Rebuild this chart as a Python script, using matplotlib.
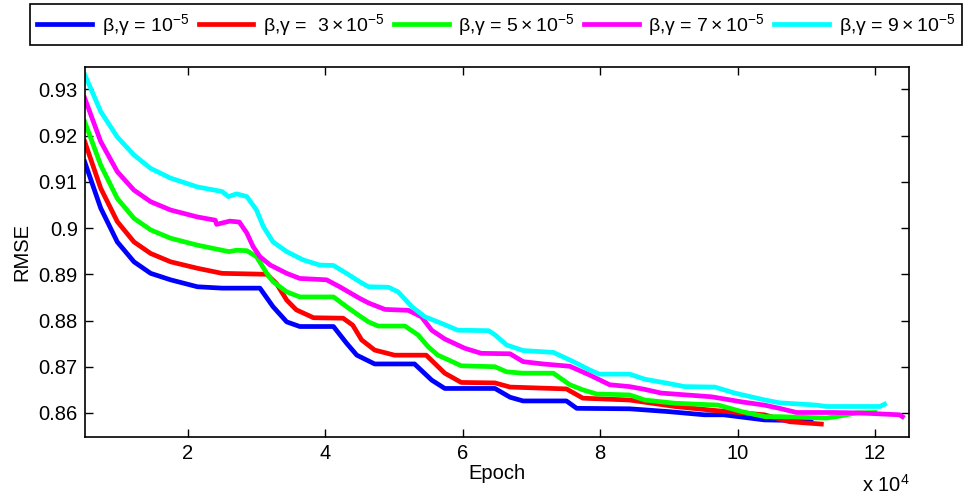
import numpy as np
import matplotlib
matplotlib.use("Agg")
import matplotlib.pyplot as plt
from matplotlib.ticker import FuncFormatter

plt.rcParams['font.family'] = ['Liberation Sans', 'DejaVu Sans']
plt.rcParams['mathtext.fontset'] = 'custom'
plt.rcParams['mathtext.rm'] = 'Liberation Sans'
plt.rcParams['mathtext.it'] = 'Liberation Sans:italic'

# epoch in units of 10^4, RMSE
blue_x = [0.5, 0.733, 0.974, 1.217, 1.46, 1.75, 2.14, 2.5, 3.05, 3.24, 3.44, 3.63, 4.12, 4.31, 4.46,
          4.72, 5.30, 5.55, 5.74, 6.47, 6.69, 6.88, 7.51, 7.66, 8.43, 8.99, 9.52, 9.80, 10.39, 11.07]
blue_y = [0.9143, 0.9043, 0.8970, 0.8927, 0.8902, 0.8888, 0.8873, 0.8870, 0.8870, 0.8830, 0.8797, 0.8787,
          0.8787, 0.8751, 0.8725, 0.8706, 0.8706, 0.8671, 0.8653, 0.8653, 0.8634, 0.8626, 0.8626, 0.8610,
          0.8609, 0.8603, 0.8596, 0.8596, 0.8585, 0.8583]

red_x = [0.5, 0.733, 0.974, 1.217, 1.46, 1.75, 2.14, 2.5, 3.15, 3.29, 3.44, 3.58, 3.83, 4.26, 4.40, 4.53,
         4.72, 5.01, 5.47, 5.74, 5.98, 6.47, 6.69, 7.51, 7.75, 8.43, 9.09, 9.62, 10.39, 10.76, 11.22]
red_y = [0.9187, 0.9086, 0.9014, 0.8970, 0.8945, 0.8927, 0.8913, 0.8902, 0.8900, 0.8880, 0.8844, 0.8823,
         0.8806, 0.8805, 0.8790, 0.8758, 0.8736, 0.8725, 0.8725, 0.8686, 0.8666, 0.8665, 0.8656, 0.8652,
         0.8632, 0.8628, 0.8614, 0.8606, 0.8596, 0.8581, 0.8576]

green_x = [0.5, 0.733, 0.974, 1.217, 1.46, 1.75, 2.14, 2.5, 2.6, 2.71, 2.86, 3.0, 3.15, 3.24, 3.44, 3.63,
           4.12, 4.31, 4.5, 4.63, 4.77, 5.16, 5.35, 5.5, 5.64, 5.79, 5.98, 6.47, 6.64, 6.88, 7.32, 7.56,
           7.75, 7.95, 8.43, 8.65, 9.09, 9.72, 10.06, 10.4, 10.61, 11.29, 11.44, 11.73, 12.0]
green_y = [0.9230, 0.9136, 0.9064, 0.9021, 0.8996, 0.8978, 0.8963, 0.8952, 0.8949, 0.8952, 0.8951, 0.8938,
           0.8902, 0.8884, 0.8862, 0.8851, 0.8851, 0.8830, 0.8810, 0.8797, 0.8788, 0.8788, 0.8769, 0.8743,
           0.8725, 0.8715, 0.8702, 0.8700, 0.8689, 0.8686, 0.8686, 0.8661, 0.8650, 0.8641, 0.8639, 0.8628,
           0.8621, 0.8617, 0.8603, 0.8592, 0.8592, 0.8589, 0.8592, 0.8600, 0.8601]

magenta_x = [0.5, 0.733, 0.974, 1.217, 1.46, 1.75, 2.14, 2.4, 2.42, 2.61, 2.75, 2.86, 2.95, 3.05, 3.2,
             3.44, 3.63, 4.02, 4.21, 4.5, 4.63, 4.87, 5.21, 5.4, 5.55, 5.74, 6.03, 6.27, 6.69, 6.88, 7.17,
             7.56, 7.85, 8.14, 8.43, 8.65, 8.89, 9.62, 10.06, 10.39, 10.61, 10.86, 11.39, 11.78, 12.36, 12.40]
magenta_y = [0.9281, 0.9187, 0.9122, 0.9082, 0.9057, 0.9039, 0.9024, 0.9017, 0.9008, 0.9015, 0.9013,
             0.8989, 0.8960, 0.8938, 0.8920, 0.8902, 0.8891, 0.8888, 0.8873, 0.8848, 0.8838, 0.8824,
             0.8822, 0.8808, 0.8779, 0.8760, 0.8740, 0.8729, 0.8728, 0.8711, 0.8706, 0.8701, 0.8682,
             0.8661, 0.8657, 0.8651, 0.8643, 0.8635, 0.8624, 0.8617, 0.8610, 0.8601, 0.8601, 0.8600,
             0.8596, 0.8592]

cyan_x = [0.5, 0.733, 0.974, 1.217, 1.46, 1.75, 2.14, 2.5, 2.59, 2.71, 2.86, 3.0, 3.1, 3.24, 3.44, 3.68,
          3.92, 4.12, 4.31, 4.5, 4.63, 4.92, 5.06, 5.26, 5.45, 5.69, 5.93, 6.38, 6.47, 6.64, 6.88, 7.32,
          7.61, 7.85, 7.99, 8.43, 8.65, 8.99, 9.23, 9.67, 9.96, 10.4, 10.61, 11.15, 11.29, 12.07, 12.14]
cyan_y = [0.9332, 0.9252, 0.9197, 0.9158, 0.9129, 0.9108, 0.9089, 0.9079, 0.9068, 0.9074, 0.9068, 0.9039,
          0.9003, 0.8970, 0.8949, 0.8931, 0.8920, 0.8919, 0.8902, 0.8884, 0.8873, 0.8872, 0.8862, 0.8830,
          0.8808, 0.8794, 0.8779, 0.8778, 0.8769, 0.8747, 0.8735, 0.8731, 0.8711, 0.8693, 0.8684, 0.8684,
          0.8673, 0.8664, 0.8657, 0.8656, 0.8643, 0.8628, 0.8622, 0.8617, 0.8614, 0.8614, 0.8619]

labels = [r'β,γ = $10^{-5}$', r'β,γ =  $3\times10^{-5}$', r'β,γ = $5\times10^{-5}$',
          r'β,γ = $7\times10^{-5}$', r'β,γ = $9\times10^{-5}$']
colors = ['#0000ff', '#ff0000', '#00ff00', '#ff00ff', '#00ffff']

series = [(blue_x, blue_y), (red_x, red_y), (green_x, green_y), (magenta_x, magenta_y), (cyan_x, cyan_y)]

fig = plt.figure(figsize=(9.66, 4.98), dpi=100)
ax = fig.add_axes([0.0877, 0.1225, 0.8536, 0.7435])

for (xs, ys), lab, c in zip(series, labels, colors):
    ax.plot(xs, ys, color=c, lw=3.4, label=lab, solid_joinstyle='round')

ax.set_xlim(0.5, 12.5)
ax.set_ylim(0.8548, 0.9349)
ax.set_xticks([2, 4, 6, 8, 10, 12])
ax.set_yticks([0.86, 0.87, 0.88, 0.89, 0.90, 0.91, 0.92, 0.93])
ax.yaxis.set_major_formatter(FuncFormatter(lambda v, p: '%g' % round(v, 2)))
ax.tick_params(direction='in', length=5.5, width=1, labelsize=14.5, top=True, right=True, pad=5)
for s in ax.spines.values():
    s.set_linewidth(1.2)

ax.set_xlabel('Epoch', fontsize=14.5, labelpad=1)
ax.set_ylabel('RMSE', fontsize=14.5, labelpad=5)
ax.text(1.0, -0.13, r'x $10^4$', transform=ax.transAxes, ha='right', va='center', fontsize=14.5)

leg = fig.legend(loc='upper center', bbox_to_anchor=(0.5135, 0.992), ncol=5, fontsize=14,
                 handlelength=2.8, columnspacing=0.5, handletextpad=0.5, borderpad=0.4,
                 borderaxespad=0, fancybox=False, edgecolor='black', framealpha=1)
leg.get_frame().set_linewidth(1.2)

plt.savefig('out.png', dpi=100)
